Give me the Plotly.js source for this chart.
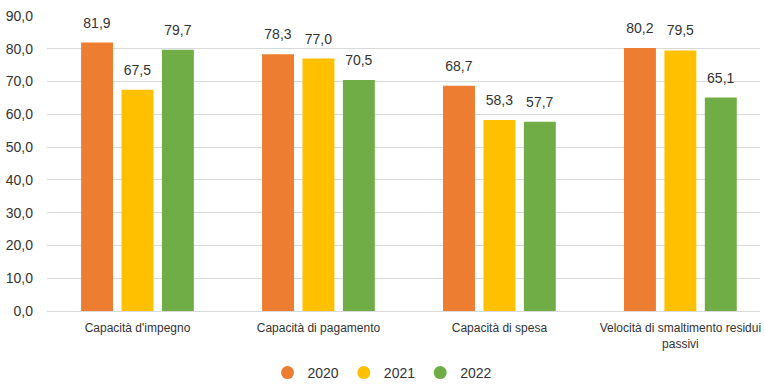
<!DOCTYPE html>
<html><head><meta charset="utf-8">
<script src="https://cdn.plot.ly/plotly-3.0.1.min.js"></script>
<style>html,body{margin:0;padding:0;background:#fff}#chart{width:765px;height:389px}</style>
</head><body><div id="chart"></div>
<script>
const categories = ["Capacità d'impegno", "Capacità di pagamento", "Capacità di spesa", "Velocità di smaltimento residui<br>passivi"];
const seriesNames = ["2020", "2021", "2022"];
const values2020 = [81.9, 78.3, 68.7, 80.2];
const values2021 = [67.5, 77.0, 58.3, 79.5];
const values2022 = [79.7, 70.5, 57.7, 65.1];
const colors = ["#ED7D31", "#FFC000", "#70AD47"];
const FONT = "'Liberation Sans', Arial, sans-serif";
const allValues = [values2020, values2021, values2022];
const fmt = v => v.toFixed(1).replace('.', ',');
const traces = [];
allValues.forEach((vals, i) => {
  traces.push({
    type: 'bar', x: categories, y: vals, name: seriesNames[i],
    marker: {color: colors[i]}, showlegend: false,
    offsetgroup: String(i),
    text: vals.map(fmt), textposition: 'outside', cliponaxis: false,
    textfont: {family: FONT, size: 14, color: '#333333'},
    hoverinfo: 'none'
  });
});
allValues.forEach((vals, i) => {
  traces.push({
    type: 'scatter', mode: 'markers', x: [null], y: [null], name: seriesNames[i],
    marker: {color: colors[i], size: 13, symbol: 'circle'}, showlegend: true
  });
});
const layout = {
  width: 765, height: 389,
  margin: {l: 47, r: 5, t: 16, b: 78},
  paper_bgcolor: '#fff', plot_bgcolor: '#fff',
  font: {family: FONT, size: 14, color: '#333333'},
  separators: ',.',
  barmode: 'group', bargap: 0.33, bargroupgap: 0.21,
  xaxis: {
    type: 'category', range: [-0.5, 3.44], showgrid: false,
    showline: true, linecolor: '#d9d9d9', linewidth: 1,
    ticks: '', ticklabelstandoff: 6,
    tickfont: {family: FONT, size: 12, color: '#333333'}
  },
  yaxis: {
    range: [0, 90], dtick: 10, tickformat: '.1f',
    showgrid: true, gridcolor: '#d9d9d9', gridwidth: 1,
    zeroline: false, showline: false, ticks: '', ticklen: 0,
    ticklabelstandoff: 13,
    tickfont: {family: FONT, size: 14, color: '#333333'}
  },
  legend: {
    orientation: 'h', x: 0.5, xanchor: 'center', xref: 'container',
    y: 0.0, yanchor: 'bottom', yref: 'container',
    font: {family: FONT, size: 14, color: '#333333'},
    itemwidth: 20, tracegroupgap: 0
  },
  showlegend: true
};
Plotly.newPlot('chart', traces, layout, {displayModeBar: false, staticPlot: true}).then(gd => {
  // lift the value labels a little above the bars, as in the reference
  gd.querySelectorAll('.bars .bartext').forEach(t => {
    const tr = t.getAttribute('transform') || '';
    t.setAttribute('transform', 'translate(0,-9) ' + tr);
  });
});
</script></body></html>
